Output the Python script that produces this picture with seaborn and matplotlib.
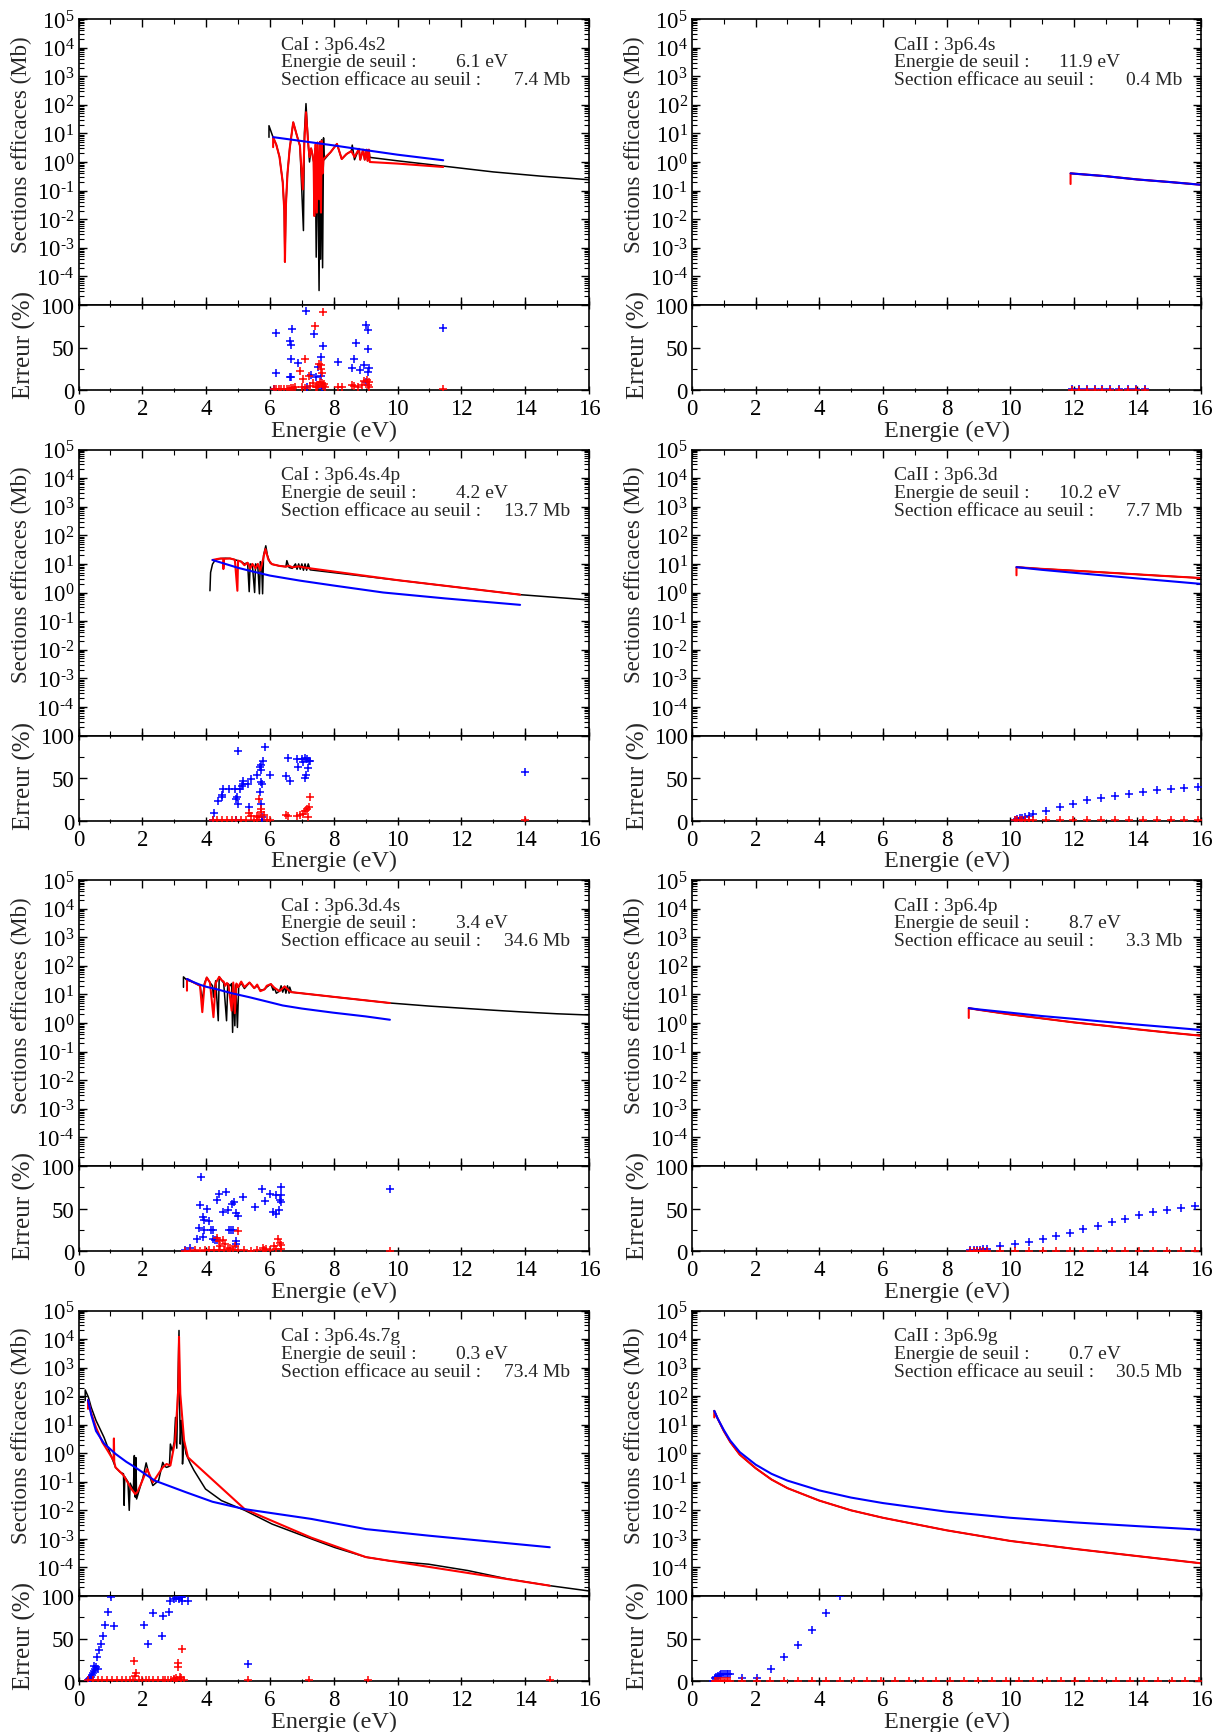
import numpy as np
import matplotlib
matplotlib.use("Agg")
import matplotlib.pyplot as plt
import seaborn as sns
from matplotlib.ticker import MultipleLocator, LogLocator, NullFormatter

# ---------------------------------------------------------------- panel texts
names = ["CaI : 3p6.4s2", "CaII : 3p6.4s", "CaI : 3p6.4s.4p", "CaII : 3p6.3d",
         "CaI : 3p6.3d.4s", "CaII : 3p6.4p", "CaI : 3p6.4s.7g", "CaII : 3p6.9g"]
thresholds = [6.1, 11.9, 4.2, 10.2, 3.4, 8.7, 0.3, 0.7]
sigma_thr = [7.4, 0.4, 13.7, 7.7, 34.6, 3.3, 73.4, 30.5]

# ---------------------------------------------------------------- CaI 3p6.4s2
p1_black_x = [5.97, 5.97, 6.11, 6.2, 6.3, 6.4, 6.45, 6.47, 6.5, 6.55, 6.62, 6.73, 6.85, 6.94, 7.05, 7.08, 7.13,
              7.2, 7.24, 7.29, 7.33, 7.37, 7.39, 7.42, 7.45, 7.49, 7.54, 7.57, 7.59, 7.62, 7.65, 7.68, 7.7,
              7.9, 8.1, 8.25, 8.4, 8.55, 8.58, 8.65, 8.79, 8.83, 8.92, 8.97, 9.03, 9.06, 9.1, 9.13,
              10.0, 11.43, 13.0, 14.5, 16.0]
p1_black_y = [7.3, 18.6, 6.7, 4.0, 1.5, 0.2, 0.02, 3.2e-4, 0.03, 0.4, 3.0, 24.5, 8.0, 3.7, 4e-3, 10, 110,
              4.3, 1.0, 3.0, 1.9, 1.0, 0.013, 3.0, 4.7e-4, 4.8, 3.2e-5, 5.2, 4e-4, 6.0, 2e-4, 7.0, 1.2,
              2.2, 4.3, 1.27, 1.9, 2.4, 3.9, 1.2, 2.9, 1.2, 2.7, 1.2, 2.7, 1.1, 2.7, 1.45,
              1.1, 0.72, 0.45, 0.32, 0.24]
p1_red_x = [6.1, 6.1, 6.2, 6.3, 6.4, 6.45, 6.47, 6.5, 6.55, 6.62, 6.73, 6.85, 6.94, 7.03, 7.08, 7.13, 7.2,
            7.24, 7.29, 7.33, 7.37, 7.39, 7.42, 7.47, 7.49, 7.54, 7.57, 7.6, 7.62, 7.65, 7.68, 7.9, 8.1,
            8.25, 8.4, 8.55, 8.65, 8.79, 8.83, 8.92, 8.97, 9.03, 9.06, 9.1, 9.13, 10.0, 11.43]
p1_red_y = [3.3, 7.4, 4.0, 1.5, 0.2, 0.02, 3.2e-4, 0.03, 0.4, 3.0, 24.5, 8.0, 3.7, 0.11, 5.0, 55, 4.3,
            1.5, 3.0, 1.9, 1.0, 0.013, 4.0, 0.017, 4.8, 0.05, 5.0, 0.017, 5.5, 0.4, 1.27, 2.2, 4.3,
            1.27, 1.9, 2.4, 1.5, 2.9, 1.2, 2.7, 1.2, 2.7, 1.1, 2.7, 1.0, 0.88, 0.67]
p1_blue_x = [6.1, 7.0, 8.0, 9.0, 10.0, 11.43]
p1_blue_y = [7.4, 5.4, 3.8, 2.6, 1.8, 1.15]
p1_eb_x = [6.13, 6.19, 6.19, 6.62, 6.66, 6.68, 6.62, 6.66, 6.66, 6.87, 7.14, 7.17, 7.30, 7.39, 7.44, 7.52,
           7.59, 7.61, 7.66, 7.64, 8.13, 8.56, 8.62, 8.71, 8.83, 8.96, 9.01, 9.06, 9.08, 9.12, 9.06, 9.01, 11.43]
p1_eb_y = [1, 19.6, 67.5, 58, 53, 72, 15, 15.5, 37, 32, 93, 4, 18, 66, 15, 27.5,
           39, 17, 52, 2, 33, 26, 36, 55, 23, 29, 76, 48, 71, 26, 21, 10, 73]
p1_er_x = [6.12, 6.2, 6.28, 6.36, 6.44, 6.52, 6.6, 6.66, 6.72, 6.8, 6.93, 7.09, 7.03, 7.23, 7.25, 7.42,
           7.36, 7.54, 7.59, 7.61, 7.64, 7.56, 7.64, 7.52, 7.66, 7.48, 7.45, 7.70, 7.72, 7.66, 7.0, 7.1,
           8.13, 8.25, 8.58, 8.64, 8.77, 8.9, 8.96, 9.04, 9.1, 9.06, 9.1, 11.43]
p1_er_y = [0.8, 1, 1, 1.2, 1, 1.5, 1.5, 2, 2, 4, 22, 36.5, 13, 16, 5, 75.5,
           8, 30.5, 29, 25, 20, 10, 8, 6, 5, 3, 4, 7, 3, 92, 3, 2,
           4, 4, 6, 5, 4, 6, 10.5, 12, 10, 6, 4, 1]

# ---------------------------------------------------------------- CaII 3p6.4s
p2_black_x = [11.9, 13.0, 14.0, 15.0, 16.0]
p2_black_y = [0.40, 0.32, 0.245, 0.2, 0.16]
p2_red_x = [11.9, 11.9, 13.0, 14.0, 15.0, 16.0]
p2_red_y = [0.17, 0.4, 0.32, 0.245, 0.2, 0.16]
p2_blue_x = [11.9, 13.0, 14.0, 15.0, 16.0]
p2_blue_y = [0.40, 0.32, 0.245, 0.2, 0.16]
p2_eb_x = [11.93, 12.17, 12.42, 12.66, 12.9, 13.15, 13.42, 13.7, 13.97, 14.25]
p2_eb_y = [1.2, 1.5, 1.5, 1.6, 1.6, 1.5, 1.5, 1.4, 1.4, 1.3]
p2_er_x = [11.93, 12.17, 12.42, 12.66, 12.9, 13.15, 13.42, 13.7, 13.97, 14.25]
p2_er_y = [0.2, 0.2, 0.2, 0.2, 0.2, 0.2, 0.2, 0.2, 0.2, 0.2]

# ---------------------------------------------------------------- CaI 3p6.4s.4p
p3_black_x = [4.12, 4.14, 4.2, 4.28, 4.4, 4.5, 4.6, 4.75, 4.9, 5.0, 5.1, 5.2, 5.3, 5.35, 5.38, 5.45, 5.52,
              5.55, 5.62, 5.67, 5.7, 5.74, 5.77, 5.8, 5.87, 5.92, 6.0, 6.06, 6.3, 6.5, 6.53, 6.6, 6.7,
              6.8, 6.85, 6.9, 6.95, 7.0, 7.05, 7.1, 7.15, 7.2, 7.26, 10.0, 13.84, 16.0]
p3_black_y = [1.15, 5, 9.8, 13.5, 15, 15.5, 15.8, 15.5, 14, 13, 12, 10, 11, 1.07, 10, 9, 1.0,
              10, 8, 0.9, 12, 9, 0.9, 20, 43, 20, 11, 9.8, 8.5, 8, 13, 7.5, 7,
              10, 6.5, 10, 6.5, 10, 6, 10, 6, 10, 6.2, 2.7, 0.84, 0.55]
p3_red_x = [4.2, 4.33, 4.45, 4.54, 4.54, 4.56, 4.75, 4.9, 4.98, 5.0, 5.1, 5.2, 5.3, 5.38, 5.45, 5.55,
            5.62, 5.7, 5.78, 5.86, 5.95, 6.06, 6.3, 6.5, 6.6, 6.7, 6.9, 7.1, 7.26, 10.0, 13.84]
p3_red_y = [13.7, 14.7, 15.5, 15.3, 6.6, 15, 15.5, 14, 1.15, 13, 12, 9, 11, 7, 10, 7,
            10, 6, 14, 33, 14, 9.8, 8.5, 8, 8.6, 7.6, 8.2, 7.4, 7.0, 2.7, 0.84]
p3_blue_x = [4.2, 4.6, 5.0, 5.38, 6.0, 6.94, 8.0, 9.55, 11.5, 13.84]
p3_blue_y = [13.7, 10, 7.3, 5.7, 3.9, 2.6, 1.75, 1.0, 0.62, 0.37]
p3_eb_x = [4.26, 4.36, 4.51, 4.51, 4.54, 4.72, 4.90, 4.94, 4.98, 5.01, 5.06, 5.11, 5.17, 5.15, 5.30, 4.99,
           5.35, 5.42, 5.58, 5.68, 5.73, 5.78, 5.71, 5.73, 5.76, 5.69, 5.72, 5.86, 6.00, 5.76, 6.57, 6.49,
           6.64, 6.84, 6.89, 7.00, 7.03, 7.10, 7.16, 7.21, 7.26, 7.18, 7.12, 7.10, 14.0, 4.23, 4.95, 5.74]
p3_eb_y = [8.7, 22.5, 27.5, 29.5, 36.5, 37, 36.5, 25.5, 27.5, 19.6, 37, 41, 47, 43, 42.5, 81.6,
           15.7, 49, 53.8, 62.8, 65, 70, 59, 45, 42.5, 34, 19.6, 86, 53.8, 3.9, 73.8, 51.8,
           47, 72.5, 63.5, 71.8, 68.6, 73.8, 72, 70, 70, 62, 54, 50, 56.7, 0.5, 0.5, 0.5]
p3_er_x = [4.22, 4.35, 4.5, 4.65, 4.8, 4.95, 5.1, 5.25, 5.5, 5.6, 5.9, 6.0, 5.67, 5.73, 5.73, 5.35,
           5.42, 5.58, 5.8, 5.65, 6.5, 6.57, 6.84, 6.94, 7.05, 7.1, 7.16, 7.21, 7.24, 7.2, 14.0]
p3_er_y = [0.5, 0.5, 0.8, 0.5, 1, 0.8, 0.5, 1, 0.8, 1, 0.5, 0.8, 25.5, 13, 10, 9,
           5, 5, 6, 4, 6, 5, 5, 7, 8, 11, 14, 16, 27.5, 4, 0.3]

# ---------------------------------------------------------------- CaII 3p6.3d
p4_black_x = [10.2, 11.0, 12.0, 13.0, 14.0, 15.0, 16.0]
p4_black_y = [7.7, 6.7, 5.8, 5.0, 4.3, 3.7, 3.2]
p4_red_x = [10.2, 10.2, 11.0, 12.0, 13.0, 14.0, 15.0, 16.0]
p4_red_y = [4.0, 7.7, 6.7, 5.8, 5.0, 4.3, 3.7, 3.2]
p4_blue_x = [10.2, 11.0, 12.0, 13.0, 14.0, 15.0, 16.0]
p4_blue_y = [7.7, 6.2, 4.9, 3.9, 3.1, 2.5, 2.0]
p4_eb_x = [10.16, 10.23, 10.3, 10.38, 10.48, 10.58, 10.71, 11.13, 11.57, 11.99, 12.43, 12.86, 13.3,
           13.74, 14.19, 14.61, 15.05, 15.48, 15.92]
p4_eb_y = [0.6, 1.8, 2.5, 3.5, 4.5, 5.8, 7.1, 11.4, 16, 19.6, 23.9, 26.6, 29.4, 31.7, 34, 35.6, 37.2, 38.4, 39.6]
p4_er_x = [10.16, 10.23, 10.3, 10.38, 10.48, 10.58, 10.71, 11.13, 11.57, 11.99, 12.43, 12.86, 13.3,
           13.74, 14.19, 14.61, 15.05, 15.48, 15.92]
p4_er_y = [0.3] * 19

# ---------------------------------------------------------------- CaI 3p6.3d.4s
p5_black_x = [3.29, 3.29, 3.39, 3.6, 3.81, 3.88, 3.95, 4.02, 4.12, 4.2, 4.23, 4.3, 4.38, 4.41, 4.49, 4.55,
              4.64, 4.68, 4.75, 4.8, 4.83, 4.86, 4.9, 4.93, 4.98, 5.02, 5.1, 5.2, 5.36, 5.51, 5.6, 5.7,
              5.83, 5.9, 6.03, 6.1, 6.14, 6.2, 6.3, 6.35, 6.4, 6.46, 6.5, 6.55, 6.6, 6.62, 6.67,
              8.0, 9.76, 11.0, 12.0, 13.0, 14.0, 15.0, 16.0]
p5_black_y = [17.7, 41, 32, 26.5, 20, 6, 25, 39, 26, 20, 8, 30, 1.2, 41, 31, 25,
              1.2, 24, 20, 24, 0.47, 22, 0.8, 22, 0.7, 18, 25, 16, 26, 16.5, 20, 14,
              15, 18, 23, 14, 17, 11, 13, 20, 12, 19, 11, 20, 11, 18, 12,
              8.2, 5.0, 3.9, 3.3, 2.8, 2.4, 2.1, 1.9]
p5_red_x = [3.4, 3.4, 3.6, 3.81, 3.88, 3.95, 4.02, 4.12, 4.23, 4.3, 4.41, 4.49, 4.55, 4.6, 4.65, 4.7,
            4.8, 4.85, 4.9, 4.95, 5.0, 5.1, 5.2, 5.36, 5.51, 5.6, 5.7, 5.83, 5.9, 6.03, 6.14, 6.3,
            6.46, 6.62, 6.67, 8.0, 9.76]
p5_red_y = [13.5, 34.6, 26.5, 20, 2.4, 22, 39, 26, 1.6, 25, 41, 31, 28, 20, 25, 22,
            2.7, 26, 2.2, 24, 18, 28, 18, 26, 16.5, 22, 13, 15, 20, 23, 17, 13,
            19, 13, 12, 8.2, 5.0]
p5_blue_x = [3.4, 3.6, 3.8, 4.0, 4.3, 4.8, 5.35, 6.0, 6.4, 7.0, 7.98, 9.0, 9.76]
p5_blue_y = [34.6, 27, 22, 18.5, 15.5, 11, 8, 5.3, 4.1, 3.2, 2.3, 1.7, 1.3]
p5_eb_x = [3.83, 3.5, 3.72, 3.78, 3.93, 3.81, 3.89, 3.91, 3.93, 4.02, 4.10, 4.15, 4.23, 4.23, 4.28, 4.33,
           4.33, 4.41, 4.54, 4.61, 4.67, 4.72, 4.78, 4.85, 4.80, 4.87, 4.94, 4.99, 5.16, 4.93, 4.93, 5.53,
           5.74, 5.86, 6.01, 6.18, 6.36, 6.36, 6.31, 6.36, 6.09, 6.19, 6.27, 9.76, 3.35]
p5_eb_y = [87, 4, 14, 27.5, 25, 54.5, 40, 16, 36, 50, 35, 25, 24.4, 14, 13.5, 13,
           60, 67, 46, 70, 47.8, 25, 24.4, 24.4, 55, 58, 45, 40.8, 64, 12, 8, 51.7,
           73, 59, 67.5, 65.6, 75.5, 65.6, 60, 58, 46, 44, 48.6, 73.5, 1]
p5_er_x = [3.35, 3.5, 3.65, 3.8, 3.95, 4.1, 4.25, 4.4, 4.55, 4.7, 4.85, 5.0, 5.2, 5.4, 5.6, 5.8, 6.0,
           6.2, 6.35, 4.99, 4.54, 4.33, 4.41, 4.74, 4.9, 5.77, 5.87, 6.14, 6.26, 6.31, 6.36, 9.76, 4.45, 4.6]
p5_er_y = [0.5, 0.5, 0.8, 0.5, 1, 0.8, 1, 1.5, 1, 2, 1.5, 1, 0.8, 0.5, 1, 1, 1.5,
           2, 2, 24, 12.5, 15, 12, 4, 6, 3, 2.5, 6, 14, 9, 6.5, 0.5, 6, 8]

# ---------------------------------------------------------------- CaII 3p6.4p
p6_black_x = [8.7, 9.0, 10.0, 11.0, 12.0, 13.0, 14.0, 15.0, 16.0]
p6_black_y = [3.3, 2.9, 2.0, 1.45, 1.05, 0.8, 0.6, 0.46, 0.36]
p6_red_x = [8.7, 8.7, 9.0, 10.0, 11.0, 12.0, 13.0, 14.0, 15.0, 16.0]
p6_red_y = [1.5, 3.3, 2.9, 2.0, 1.45, 1.05, 0.8, 0.6, 0.46, 0.36]
p6_blue_x = [8.7, 9.0, 10.0, 11.0, 12.0, 13.0, 14.0, 15.0, 16.0]
p6_blue_y = [3.3, 3.0, 2.3, 1.75, 1.4, 1.1, 0.88, 0.71, 0.57]
p6_eb_x = [8.74, 8.85, 8.95, 9.06, 9.16, 9.27, 9.68, 10.14, 10.58, 11.02, 11.45, 11.89, 12.3, 12.76,
           13.2, 13.62, 14.06, 14.49, 14.93, 15.37, 15.8]
p6_eb_y = [0.7, 1.0, 1.3, 1.5, 1.8, 2.0, 5.4, 8.2, 10.9, 14.4, 18, 21, 25.4, 29.3, 34, 38, 42, 45.4, 48.6, 51, 53.4]
p6_er_x = [8.74, 8.85, 8.95, 9.06, 9.16, 9.27, 9.68, 10.14, 10.58, 11.02, 11.45, 11.89, 12.3, 12.76,
           13.2, 13.62, 14.06, 14.49, 14.93, 15.37, 15.8]
p6_er_y = [0.3] * 21

# ---------------------------------------------------------------- CaI 3p6.4s.7g
p7_black_x = [0.21, 0.21, 0.31, 0.4, 0.55, 0.8, 1.04, 1.16, 1.3, 1.41, 1.43, 1.45, 1.55, 1.59, 1.62, 1.72,
              1.75, 1.76, 1.78, 1.8, 1.82, 1.9, 2.02, 2.12, 2.2, 2.33, 2.51, 2.64, 2.7, 2.76, 2.85, 2.88,
              2.94, 3.0, 3.04, 3.08, 3.1, 3.15, 3.17, 3.19, 3.22, 3.25, 3.26, 3.3, 3.37, 3.5, 3.62, 3.98,
              4.48, 5.21, 6.07, 7.3, 8.03, 9.01, 9.75, 10.97, 12.2, 13.43, 14.77, 16.0]
p7_black_y = [70, 165, 92, 40, 14, 3.6, 0.72, 0.32, 0.22, 0.19, 0.015, 0.15, 0.1, 0.01, 0.09, 0.05,
              0.83, 0.04, 0.029, 0.7, 0.025, 0.05, 0.14, 0.46, 0.2, 0.074, 0.11, 0.48, 0.35, 0.32, 0.35, 2.1,
              1.2, 2.5, 18, 1.5, 30, 2e4, 50, 2.1, 14, 14, 0.42, 3.0, 0.95, 0.45, 0.25, 0.056,
              0.022, 0.01, 3.3e-3, 1e-3, 5e-4, 2.3e-4, 1.7e-4, 1.3e-4, 7.8e-5, 4e-5, 2.3e-5, 1.5e-5]
p7_red_x = [0.3, 0.3, 0.4, 0.55, 0.75, 0.92, 1.1, 1.11, 1.12, 1.16, 1.41, 1.66, 1.78, 1.85, 1.96, 2.15,
            2.33, 2.64, 2.76, 2.88, 3.03, 3.13, 3.15, 3.19, 3.31, 3.43, 5.21, 7.3, 9.01, 14.77]
p7_red_y = [36, 73.4, 25, 8, 2.4, 1.2, 0.55, 3.3, 0.5, 0.32, 0.17, 0.056, 0.037, 0.045, 0.085, 0.28,
            0.096, 0.32, 0.42, 0.37, 2.8, 205, 1.2e4, 120, 2.8, 0.72, 0.011, 1.1e-3, 2.3e-4, 2.3e-5]
p7_blue_x = [0.3, 0.4, 0.55, 0.8, 1.16, 1.5, 1.78, 2.39, 3.37, 4.2, 5.21, 7.3, 9.01, 10.97, 14.77]
p7_blue_y = [73.4, 22, 6, 2.2, 0.95, 0.5, 0.32, 0.11, 0.043, 0.02, 0.011, 5e-3, 2.2e-3, 1.3e-3, 5.1e-4]
p7_eb_x = [0.31, 0.34, 0.37, 0.4, 0.43, 0.46, 0.49, 0.49, 0.52, 0.55, 0.58, 0.61, 0.65, 0.71, 0.77, 0.83,
           0.92, 1.02, 1.12, 2.05, 2.17, 2.33, 2.61, 2.66, 2.84, 2.88, 2.98, 3.07, 3.15, 3.2, 3.25, 3.43,
           3.25, 5.31]
p7_eb_y = [0.8, 2, 3.5, 5, 7.5, 10, 12, 17.6, 14, 16, 28, 13.7, 36, 44, 53, 65.5,
           81.6, 99, 64.7, 65.5, 43, 80, 53, 77, 81, 94, 96, 98, 96, 99, 99, 94,
           94, 19.6]
p7_er_x = [0.3, 0.45, 0.6, 0.75, 0.9, 1.05, 1.2, 1.35, 1.5, 1.6, 1.7, 1.9, 2.0, 2.1, 2.2, 2.35, 2.5,
           2.65, 2.7, 2.8, 2.9, 3.0, 3.1, 3.2, 3.3, 1.75, 1.8, 1.78, 3.13, 3.13, 3.25, 3.07, 3.18,
           3.22, 3.0, 5.31, 7.23, 9.07, 14.77]
p7_er_y = [0.8] * 25 + [23.5, 9.8, 5.9, 21.6, 16.9, 37.3, 3.9, 5, 4, 2.5, 0.8, 0.8, 0.8, 0.8]

# ---------------------------------------------------------------- CaII 3p6.9g
p8_black_x = [0.7, 0.8, 1.0, 1.2, 1.5, 2.0, 2.5, 3.0, 4.0, 5.0, 6.0, 8.0, 10.0, 12.0, 14.0, 16.0]
p8_black_y = [30.5, 17, 6, 2.5, 0.9, 0.3, 0.12, 0.06, 0.022, 0.01, 5.5e-3, 2e-3, 8.5e-4, 4.5e-4, 2.5e-4, 1.4e-4]
p8_red_x = [0.7, 0.7, 0.8, 1.0, 1.2, 1.5, 2.0, 2.5, 3.0, 4.0, 5.0, 6.0, 8.0, 10.0, 12.0, 14.0, 16.0]
p8_red_y = [18, 30.5, 17, 6, 2.5, 0.9, 0.3, 0.12, 0.06, 0.022, 0.01, 5.5e-3, 2e-3, 8.5e-4, 4.5e-4, 2.5e-4, 1.4e-4]
p8_blue_x = [0.7, 0.8, 1.0, 1.2, 1.5, 2.0, 2.5, 3.0, 4.0, 5.0, 6.0, 8.0, 10.0, 12.0, 14.0, 16.0]
p8_blue_y = [30.5, 17, 6.5, 2.8, 1.1, 0.4, 0.19, 0.11, 0.05, 0.028, 0.018, 9e-3, 5.5e-3, 3.8e-3, 2.8e-3, 2.1e-3]
p8_eb_x = [0.65, 0.71, 0.76, 0.82, 0.87, 0.92, 0.98, 1.03, 1.09, 1.14, 1.2, 1.58, 2.03, 2.47, 2.9, 3.34,
           3.77, 4.21, 4.64]
p8_eb_y = [0.3, 3, 5, 6.3, 7, 8, 8, 8.2, 8.3, 8.3, 8, 4, 3.2, 14, 27.7, 42.7, 60.5, 80, 99.5]
p8_er_x = [0.71, 0.76, 0.82, 0.87, 0.92, 0.98, 1.03, 1.09, 1.14, 1.2, 1.58, 2.03, 2.45, 2.9, 3.34, 3.77,
           4.21, 4.64, 5.08, 5.51, 5.95, 6.38, 6.82, 7.25, 7.68, 8.12, 8.55, 8.99, 9.42, 9.86, 10.29,
           10.73, 11.16, 11.6, 12.03, 12.47, 12.9, 13.34, 13.77, 14.21, 14.64, 15.08, 15.51, 15.95]
p8_er_y = [0.3] * 44

panels = [
    (p1_black_x, p1_black_y, p1_red_x, p1_red_y, p1_blue_x, p1_blue_y, p1_eb_x, p1_eb_y, p1_er_x, p1_er_y),
    (p2_black_x, p2_black_y, p2_red_x, p2_red_y, p2_blue_x, p2_blue_y, p2_eb_x, p2_eb_y, p2_er_x, p2_er_y),
    (p3_black_x, p3_black_y, p3_red_x, p3_red_y, p3_blue_x, p3_blue_y, p3_eb_x, p3_eb_y, p3_er_x, p3_er_y),
    (p4_black_x, p4_black_y, p4_red_x, p4_red_y, p4_blue_x, p4_blue_y, p4_eb_x, p4_eb_y, p4_er_x, p4_er_y),
    (p5_black_x, p5_black_y, p5_red_x, p5_red_y, p5_blue_x, p5_blue_y, p5_eb_x, p5_eb_y, p5_er_x, p5_er_y),
    (p6_black_x, p6_black_y, p6_red_x, p6_red_y, p6_blue_x, p6_blue_y, p6_eb_x, p6_eb_y, p6_er_x, p6_er_y),
    (p7_black_x, p7_black_y, p7_red_x, p7_red_y, p7_blue_x, p7_blue_y, p7_eb_x, p7_eb_y, p7_er_x, p7_er_y),
    (p8_black_x, p8_black_y, p8_red_x, p8_red_y, p8_blue_x, p8_blue_y, p8_eb_x, p8_eb_y, p8_er_x, p8_er_y),
]

# ---------------------------------------------------------------- style
sns.set_theme(style="ticks")
plt.rcParams["font.family"] = ["Liberation Serif", "DejaVu Serif"]
plt.rcParams["mathtext.fontset"] = "stix"
plt.rcParams["axes.linewidth"] = 1.2
plt.rcParams["axes.edgecolor"] = "black"

W, H = 1220, 1733
fig = plt.figure(figsize=(W / 100, H / 100), dpi=100)

col_left = [78.5, 692.0]
col_width = [510.5, 509.0]
row_top = [20.0, 450.5, 881.0, 1311.5]
row_div = [306.0, 736.5, 1167.0, 1597.0]
row_bot = [391.0, 821.5, 1252.0, 1682.0]

dec_ticks = [10.0 ** k for k in range(-5, 6)]
dec_labels = [""]
for k in range(-4, 6):
    if k < 0:
        dec_labels.append(r"$\mathregular{10^{\text{-}%d}}$" % (-k))
    else:
        dec_labels.append(r"$\mathregular{10^{%d}}$" % k)

tick_fs = 16.5
text_fs = 14


def style_x(ax):
    ax.set_xlim(0, 16)
    ax.xaxis.set_major_locator(MultipleLocator(2))
    ax.xaxis.set_minor_locator(MultipleLocator(1))


for i, data in enumerate(panels):
    bx, by, rx, ry, blx, bly, ebx, eby, erx, ery = data
    r, c = divmod(i, 2)
    x0 = col_left[c] / W
    w = col_width[c] / W
    ax = fig.add_axes([x0, 1 - row_div[r] / H, w, (row_div[r] - row_top[r]) / H])
    ae = fig.add_axes([x0, 1 - row_bot[r] / H, w, (row_bot[r] - row_div[r]) / H])

    # cross sections
    ax.set_yscale("log")
    sns.lineplot(x=bx, y=by, sort=False, estimator=None, color="black", lw=1.1, ax=ax, legend=False)
    sns.lineplot(x=rx, y=ry, sort=False, estimator=None, color="#ff0000", lw=1.5, ax=ax, legend=False)
    sns.lineplot(x=blx, y=bly, sort=False, estimator=None, color="#0000ff", lw=1.5, ax=ax, legend=False)
    ax.set_ylim(1e-5, 1e5)
    style_x(ax)
    ax.set_yticks(dec_ticks, dec_labels)
    ax.yaxis.set_minor_locator(LogLocator(base=10, subs=np.arange(2, 10), numticks=100))
    ax.yaxis.set_minor_formatter(NullFormatter())
    ax.tick_params(which="both", direction="in", top=True, right=True, labelbottom=False,
                   labelsize=tick_fs, colors="black", pad=3)
    ax.tick_params(which="major", length=6, width=1.0)
    ax.tick_params(which="minor", length=3.5, width=0.8)
    ax.set_xlabel("")
    ax.set_ylabel("Sections efficaces (Mb)", fontsize=16.5)
    ax.yaxis.set_label_coords(-0.092, 0.565)

    # annotation block
    tx = 0.396
    ax.text(tx, 0.912, names[i], transform=ax.transAxes, fontsize=text_fs, va="center", ha="left")
    ax.text(tx, 0.850, "Energie de seuil :", transform=ax.transAxes, fontsize=text_fs, va="center", ha="left")
    ax.text(tx + 0.446, 0.850, "%.1f eV" % thresholds[i], transform=ax.transAxes, fontsize=text_fs,
            va="center", ha="right")
    ax.text(tx, 0.788, "Section efficace au seuil :", transform=ax.transAxes, fontsize=text_fs,
            va="center", ha="left")
    ax.text(tx + 0.567, 0.788, "%.1f Mb" % sigma_thr[i], transform=ax.transAxes, fontsize=text_fs,
            va="center", ha="right")

    # relative errors
    ae.axhline(0, color="black", lw=0.8, ls=(0, (1, 1)), zorder=1)
    sns.scatterplot(x=ebx, y=eby, marker="+", color="#0000ff", s=32, linewidth=1.1, ax=ae, legend=False, zorder=3)
    sns.scatterplot(x=erx, y=ery, marker="+", color="#ff0000", s=32, linewidth=1.1, ax=ae, legend=False, zorder=4)
    ae.set_ylim(0, 100)
    style_x(ae)
    ae.set_yticks([0, 50, 100])
    ae.yaxis.set_minor_locator(MultipleLocator(25))
    ae.tick_params(which="both", direction="in", top=True, right=True, labelsize=tick_fs, colors="black", pad=3)
    ae.tick_params(axis="x", which="both", bottom=True, direction="inout")
    ae.tick_params(which="major", length=6, width=1.0)
    ae.tick_params(which="minor", length=3.5, width=0.8)
    ae.set_xlabel("Energie (eV)", fontsize=17.5, labelpad=0)
    ae.set_ylabel("Erreur (%)", fontsize=18)
    ae.yaxis.set_label_coords(-0.083, 0.54)

fig.savefig("out.png", dpi=100, facecolor="white")
